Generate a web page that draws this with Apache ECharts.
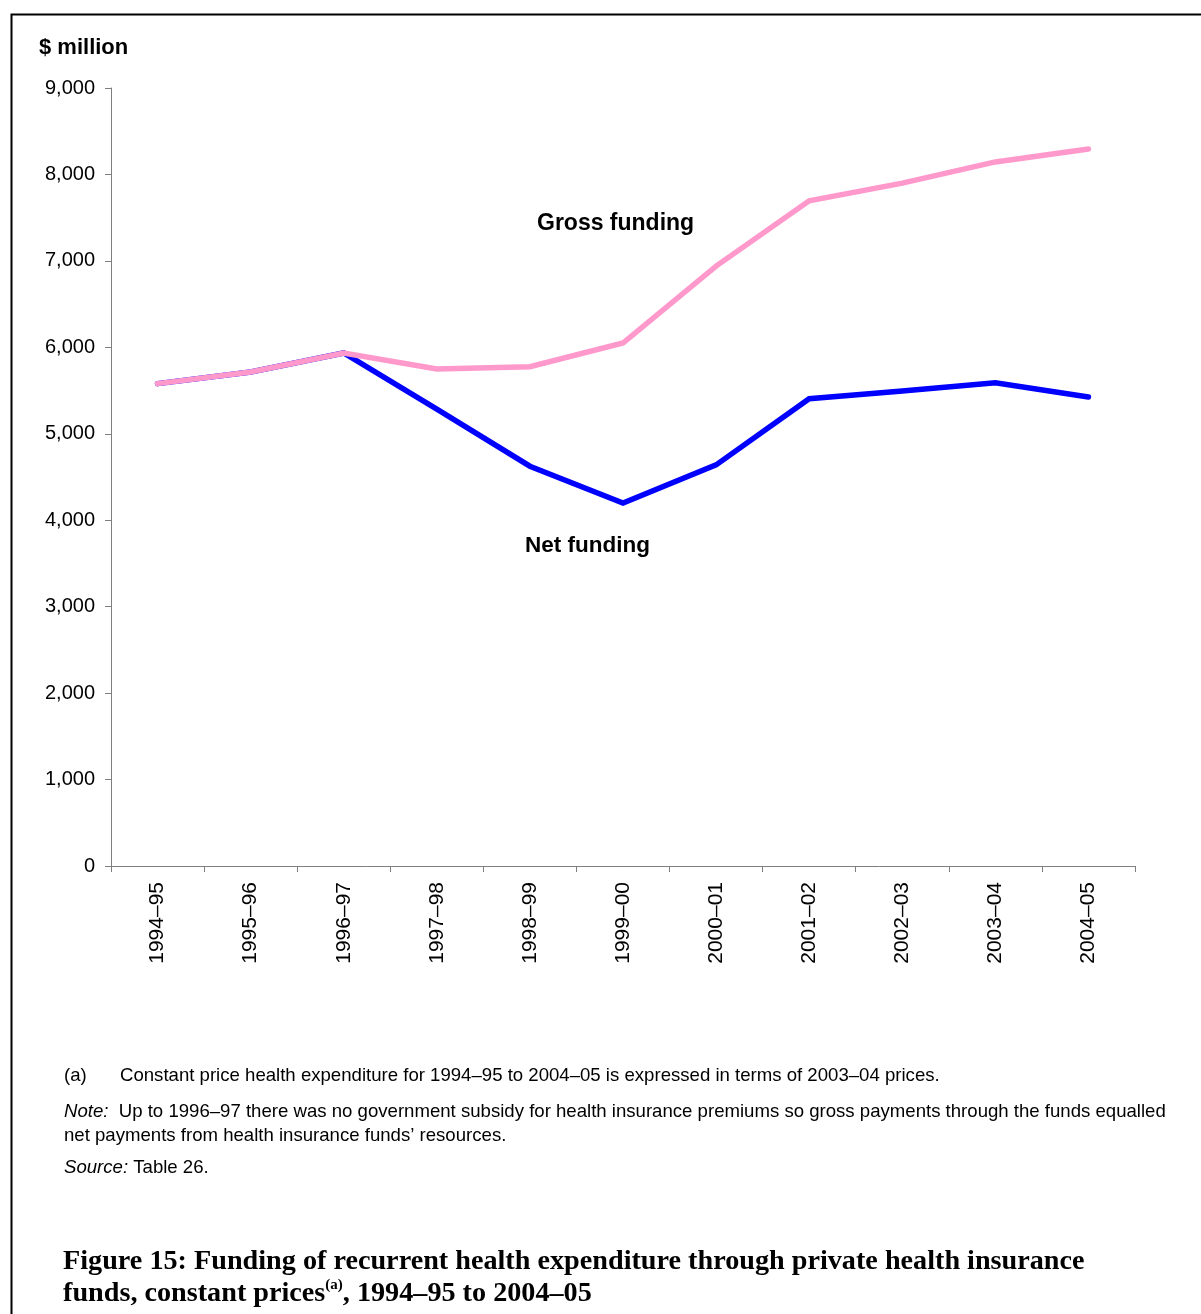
<!DOCTYPE html>
<html>
<head>
<meta charset="utf-8">
<script src="https://cdn.jsdelivr.net/npm/echarts@6/dist/echarts.min.js"></script>
<style>
html,body{margin:0;padding:0;background:#fff;}
#chart{width:1201px;height:1314px;}
</style>
</head>
<body>
<div id="chart"></div>
<script>
var categories = ['1994\u201395','1995\u201396','1996\u201397','1997\u201398','1998\u201399','1999\u201300','2000\u201301','2001\u201302','2002\u201303','2003\u201304','2004\u201305'];
var grossFunding = [5580, 5715, 5935, 5750, 5775, 6050, 6940, 7695, 7900, 8145, 8295];
var netFunding = [5580, 5715, 5935, 5285, 4625, 4200, 4640, 5405, 5495, 5590, 5425];
var yTicks = [0, 1000, 2000, 3000, 4000, 5000, 6000, 7000, 8000, 9000];

var chart = echarts.init(document.getElementById('chart'), null, {renderer: 'canvas'});
var sans = '"Liberation Sans", Arial, sans-serif';
var serif = '"Liberation Serif", "Times New Roman", serif';

chart.setOption({
  animation: false,
  backgroundColor: '#fff',
  grid: {left: 111, right: 66, top: 88, bottom: 448, containLabel: false},
  xAxis: {
    type: 'category',
    data: categories,
    boundaryGap: true,
    axisLine: {lineStyle: {color: '#7f7f7f', width: 1}},
    axisTick: {show: true, length: 6, lineStyle: {color: '#7f7f7f'}},
    axisLabel: {rotate: 90, margin: 16, color: '#000', fontSize: 21, fontFamily: sans, interval: 0}
  },
  yAxis: {
    type: 'value',
    min: yTicks[0],
    max: yTicks[yTicks.length - 1],
    interval: 1000,
    axisLine: {show: true, lineStyle: {color: '#7f7f7f', width: 1}},
    axisTick: {show: true, length: 6, lineStyle: {color: '#7f7f7f'}},
    splitLine: {show: false},
    axisLabel: {
      margin: 16, color: '#000', fontSize: 20, fontFamily: sans,
      formatter: function (v) { return v.toLocaleString('en-US'); }
    }
  },
  series: [
    {
      name: 'Net funding', type: 'line', data: netFunding, symbol: 'none',
      lineStyle: {color: '#0000ff', width: 5.5, cap: 'round', join: 'miter'},
      z: 2
    },
    {
      name: 'Gross funding', type: 'line', data: grossFunding, symbol: 'none',
      lineStyle: {color: '#ff99cc', width: 5.5, cap: 'round', join: 'miter'},
      z: 3
    }
  ],
  graphic: [
    {type: 'rect', left: 9, top: 12, shape: {width: 1400, height: 1400}, style: {fill: 'none', stroke: '#000', lineWidth: 2}, silent: true, z: 100},
    {type: 'text', left: 39, top: 37, style: {text: '$ million', font: 'bold 22px ' + sans, fill: '#000'}},
    {type: 'text', left: 537, top: 212, style: {text: 'Gross funding', font: 'bold 23px ' + sans, fill: '#000'}},
    {type: 'text', left: 525, top: 534, style: {text: 'Net funding', font: 'bold 22.5px ' + sans, fill: '#000'}},
    {type: 'text', left: 64, top: 1066, style: {text: '(a)', font: '18.6px ' + sans, fill: '#000'}},
    {type: 'text', left: 120, top: 1066, style: {text: 'Constant price health expenditure for 1994\u201395 to 2004\u201305 is expressed in terms of 2003\u201304 prices.', font: '18.6px ' + sans, fill: '#000'}},
    {type: 'text', left: 64, top: 1100, style: {
      text: '{i|Note:}  Up to 1996\u201397 there was no government subsidy for health insurance premiums so gross payments through the funds equalled\nnet payments from health insurance funds\u2019 resources.',
      font: '18.6px ' + sans, fill: '#000', lineHeight: 24,
      rich: {i: {fontStyle: 'italic', fontSize: 18.6, fontFamily: sans, fill: '#000'}}
    }},
    {type: 'text', left: 64, top: 1158, style: {
      text: '{i|Source:} Table 26.', font: '18.6px ' + sans, fill: '#000',
      rich: {i: {fontStyle: 'italic', fontSize: 18.6, fontFamily: sans, fill: '#000'}}
    }},
    {type: 'text', left: 63, top: 1246, style: {
      text: 'Figure 15: Funding of recurrent health expenditure through private health insurance\nfunds, constant prices{s|(a)}, 1994\u201395 to 2004\u201305',
      font: 'bold 28.2px ' + serif, fill: '#000', lineHeight: 32,
      rich: {s: {fontSize: 15, fontWeight: 'bold', fontFamily: serif, fill: '#000', verticalAlign: 'top', padding: [0, 0, 10, 0]}}
    }}
  ]
});
</script>
</body>
</html>
